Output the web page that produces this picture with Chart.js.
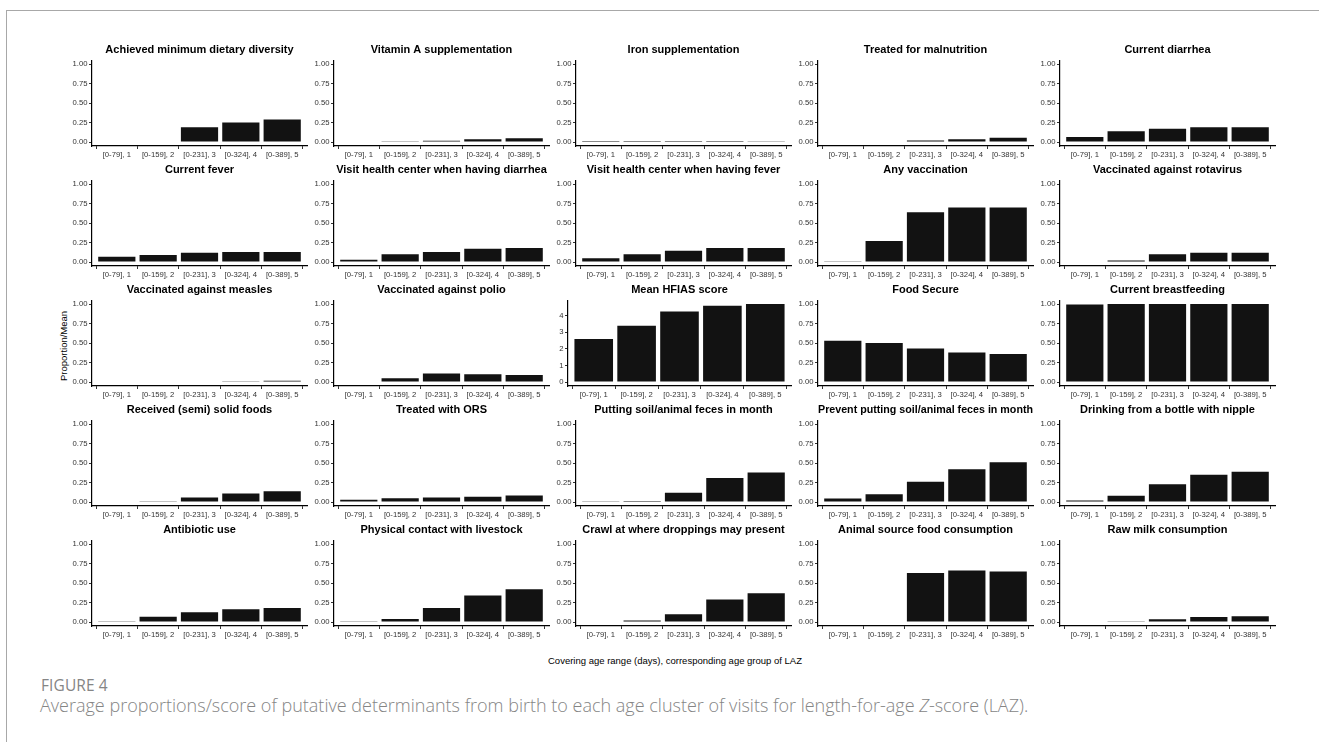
<!DOCTYPE html>
<html>
<head>
<meta charset="utf-8">
<title>Putative determinants by age cluster (LAZ)</title>
<script src="https://cdn.jsdelivr.net/npm/chart.js@4.4.1/dist/chart.umd.min.js"></script>
<style>
  html, body { margin: 0; padding: 0; background: #fff; }
  body { width: 1319px; height: 742px; overflow: hidden; position: relative;
         font-family: "Liberation Sans", Arial, Helvetica, sans-serif; }
  #frame { position: absolute; left: 6px; top: 10px; width: 1400px; height: 800px;
           border-left: 1.5px solid #a8a8a8; border-top: 1.5px solid #a8a8a8; }
  canvas.panel { position: absolute; }
  #ytitle { position: absolute; left: 63px; top: 346px; font-size: 9.5px; color: #000;
            transform: translate(-50%, -50%) rotate(-90deg); white-space: nowrap; }
  #xtitle { position: absolute; left: 675px; top: 660px; font-size: 9.5px; color: #000;
            transform: translate(-50%, -50%); white-space: nowrap; }
  #figlabel { position: absolute; left: 41px; top: 674px; font-family: "Open Sans", sans-serif;
              font-size: 15.5px; color: #858585; letter-spacing: 0.1px; }
  #caption { position: absolute; left: 40px; top: 693px; font-family: "Open Sans", sans-serif;
             font-weight: 300; font-size: 18px; color: #858585; white-space: nowrap; }
</style>
</head>
<body>
<div id="frame"></div>
<div id="ytitle">Proportion/Mean</div>
<div id="xtitle">Covering age range (days), corresponding age group of LAZ</div>
<div id="figlabel">FIGURE 4</div>
<div id="caption">Average proportions/score of putative determinants from birth to each age cluster of visits for length-for-age <i>Z</i>-score (LAZ).</div>

<script>
// Age groups on every x axis
const ageGroups = ["[0-79], 1", "[0-159], 2", "[0-231], 3", "[0-324], 4", "[0-389], 5"];

// y-axis ticks
const propTicks = [0, 0.25, 0.5, 0.75, 1];
const propTickLabels = ["0.00", "0.25", "0.50", "0.75", "1.00"];
const scoreTicks = [0, 1, 2, 3, 4];
const scoreTickLabels = ["0", "1", "2", "3", "4"];

// Proportion (or mean score) per age group, one array per determinant
const minDietaryDiversity = [0, 0, 0.19, 0.25, 0.29];
const vitaminA = [0, 0.012, 0.018, 0.035, 0.05];
const ironSupplement = [0.013, 0.013, 0.013, 0.013, 0.012];
const treatedMalnutrition = [0, 0, 0.02, 0.035, 0.055];
const currentDiarrhea = [0.065, 0.14, 0.17, 0.19, 0.19];

const currentFever = [0.07, 0.09, 0.12, 0.13, 0.13];
const visitDiarrhea = [0.03, 0.10, 0.13, 0.17, 0.18];
const visitFever = [0.05, 0.10, 0.145, 0.18, 0.18];
const anyVaccination = [0.012, 0.27, 0.64, 0.70, 0.70];
const rotavirus = [0, 0.02, 0.10, 0.12, 0.12];

const measles = [0, 0, 0, 0.012, 0.018];
const polio = [0, 0.05, 0.11, 0.10, 0.09];
const hfiasScore = [2.6, 3.4, 4.25, 4.6, 4.7];
const foodSecure = [0.53, 0.50, 0.43, 0.38, 0.36];
const breastfeeding = [0.995, 1, 1, 1, 1];

const semiSolidFoods = [0, 0.012, 0.06, 0.11, 0.14];
const treatedORS = [0.03, 0.05, 0.06, 0.07, 0.085];
const soilFeces = [0.012, 0.015, 0.12, 0.31, 0.38];
const preventSoilFeces = [0.045, 0.10, 0.26, 0.42, 0.51];
const bottleNipple = [0.02, 0.08, 0.23, 0.35, 0.39];

const antibioticUse = [0.012, 0.07, 0.125, 0.165, 0.18];
const livestockContact = [0.012, 0.04, 0.18, 0.34, 0.42];
const crawlDroppings = [0, 0.02, 0.10, 0.29, 0.37];
const animalSourceFood = [0, 0, 0.63, 0.66, 0.65];
const rawMilk = [0, 0.012, 0.035, 0.065, 0.075];

// Panels in reading order (5 x 5 grid)
const panels = [
  { title: "Achieved minimum dietary diversity", values: minDietaryDiversity },
  { title: "Vitamin A supplementation", values: vitaminA },
  { title: "Iron supplementation", values: ironSupplement },
  { title: "Treated for malnutrition", values: treatedMalnutrition },
  { title: "Current diarrhea", values: currentDiarrhea },
  { title: "Current fever", values: currentFever },
  { title: "Visit health center when having diarrhea", values: visitDiarrhea },
  { title: "Visit health center when having fever", values: visitFever },
  { title: "Any vaccination", values: anyVaccination },
  { title: "Vaccinated against rotavirus", values: rotavirus },
  { title: "Vaccinated against measles", values: measles },
  { title: "Vaccinated against polio", values: polio },
  { title: "Mean HFIAS score", values: hfiasScore, score: true },
  { title: "Food Secure", values: foodSecure },
  { title: "Current breastfeeding", values: breastfeeding },
  { title: "Received (semi) solid foods", values: semiSolidFoods },
  { title: "Treated with ORS", values: treatedORS },
  { title: "Putting soil/animal feces in month", values: soilFeces },
  { title: "Prevent putting soil/animal feces in month", values: preventSoilFeces },
  { title: "Drinking from a bottle with nipple", values: bottleNipple },
  { title: "Antibiotic use", values: antibioticUse },
  { title: "Physical contact with livestock", values: livestockContact },
  { title: "Crawl at where droppings may present", values: crawlDroppings },
  { title: "Animal source food consumption", values: animalSourceFood },
  { title: "Raw milk consumption", values: rawMilk }
];

// Grid geometry (px)
const FONT = "'Liberation Sans', Arial, Helvetica, sans-serif";
const colAxisX = c => 92 + 242 * c;
const rowBase = r => 142 + 120 * r;   // pixel of value 0
const UNIT = 78;                      // px spanned by the 0..top-tick range
const PLOT_W = 215;
const PLOT_H = UNIT * 1.1;            // 5% expansion on both ends
const Y_AXIS_W = 34;
const X_AXIS_H = 16;
const TITLE_SIZE = 11;
const TITLE_PAD = 4;
const TITLE_H = TITLE_SIZE * 1.2 + TITLE_PAD;
const PAD_R = 22;

const axisGrid = { display: true, drawOnChartArea: false, drawTicks: true, tickLength: 3,
                   color: '#333333', lineWidth: 1 };
const axisBorder = { display: true, color: '#000000', width: 1.2 };
const tickFont = { family: FONT, size: 7.7 };

panels.forEach((p, idx) => {
  const row = Math.floor(idx / 5), col = idx % 5;
  const base = rowBase(row);
  const plotRight = colAxisX(col) + PLOT_W;
  // the score panel has narrow labels, so its panel reaches further left
  const axisX = p.score ? colAxisX(col) - 8 : colAxisX(col);
  const plotW = plotRight - axisX;
  const chartTop = base - UNIT * 1.05;

  const ticks = p.score ? scoreTicks : propTicks;
  const tickLabels = p.score ? scoreTickLabels : propTickLabels;
  const top = p.score ? Math.max(...p.values) : 1;

  const w = Y_AXIS_W + plotW + PAD_R;
  const h = TITLE_H + PLOT_H + X_AXIS_H;
  const cv = document.createElement('canvas');
  cv.className = 'panel';
  cv.width = w; cv.height = h;
  cv.style.width = w + 'px'; cv.style.height = h + 'px';
  cv.style.left = (axisX - Y_AXIS_W) + 'px';
  cv.style.top = (chartTop - TITLE_H) + 'px';
  document.body.appendChild(cv);

  new Chart(cv, {
    type: 'bar',
    data: {
      datasets: [{
        data: p.values.map((v, i) => ({ x: i + 1, y: v })),
        backgroundColor: '#121212',
        borderWidth: 0,
        barPercentage: 0.9,
        categoryPercentage: 1.0
      }]
    },
    options: {
      responsive: false,
      animation: false,
      devicePixelRatio: 1,
      layout: { padding: { left: 0, right: PAD_R, top: 0, bottom: 0 } },
      plugins: {
        legend: { display: false },
        tooltip: { enabled: false },
        title: {
          display: true, text: p.title, fullSize: false, color: '#000',
          font: { family: FONT, size: TITLE_SIZE, weight: 'bold', lineHeight: 1.2 },
          padding: { top: 0, bottom: TITLE_PAD }
        }
      },
      scales: {
        x: {
          type: 'linear', min: 0.4, max: 5.6, offset: false,
          afterBuildTicks: s => { s.ticks = ageGroups.map((g, i) => ({ value: i + 1 })); },
          afterFit: s => { s.height = X_AXIS_H; s.paddingLeft = 0; s.paddingRight = 0; },
          ticks: { autoSkip: false, maxRotation: 0, minRotation: 0, padding: 1,
                   font: tickFont, color: '#333333',
                   callback: v => ageGroups[Math.round(v) - 1] },
          grid: axisGrid, border: axisBorder
        },
        y: {
          type: 'linear', min: -0.05 * top, max: 1.05 * top,
          afterBuildTicks: s => { s.ticks = ticks.map(v => ({ value: v })); },
          afterFit: s => { s.width = Y_AXIS_W; s.paddingTop = 0; s.paddingBottom = 0; },
          ticks: { padding: 1.5, font: tickFont, color: '#333333',
                   callback: (v, i) => tickLabels[i] },
          grid: axisGrid, border: axisBorder
        }
      }
    }
  });
});
</script>
</body>
</html>
